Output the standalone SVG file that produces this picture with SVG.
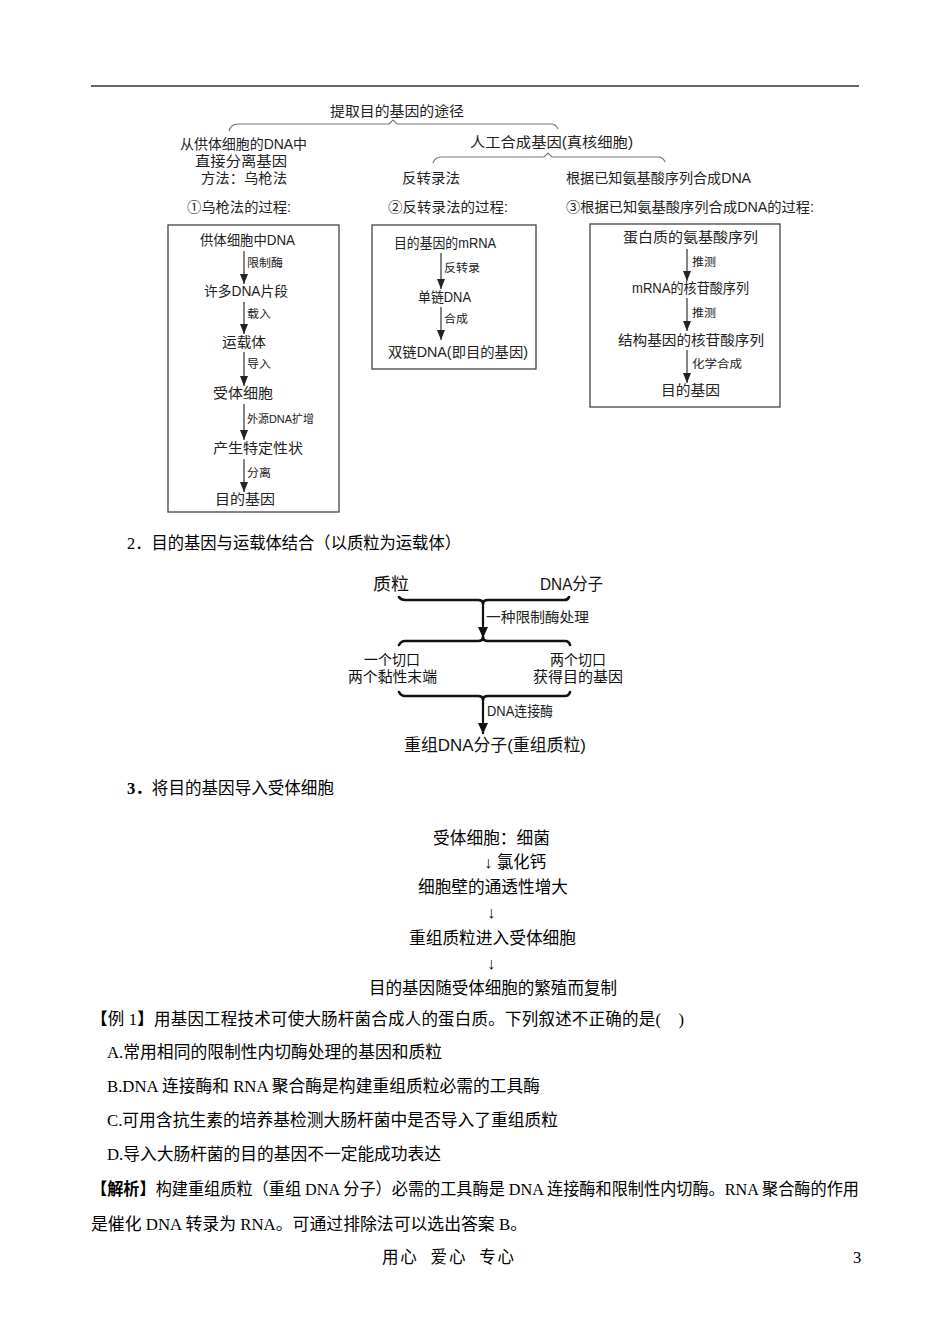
<svg xmlns="http://www.w3.org/2000/svg" width="950" height="1344" viewBox="0 0 950 1344">
<style>
  .bg{fill:#ffffff}
  .d{font-family:"Liberation Sans","Noto Sans CJK SC",sans-serif;fill:#222;font-size:14px}
  .sm{font-family:"Liberation Sans","Noto Sans CJK SC",sans-serif;fill:#222;font-size:11px}
  .p{font-family:"Liberation Sans","Noto Sans CJK SC",sans-serif;fill:#111;font-size:14.5px}
  .pl{font-family:"Liberation Sans","Noto Sans CJK SC",sans-serif;fill:#111;font-size:17px}
  .b{font-family:"Liberation Serif","Noto Sans CJK SC",serif;fill:#000;font-size:16.5px}
  .bb{font-weight:bold}
  .box{fill:none;stroke:#444;stroke-width:1.3}
  .brace{fill:none;stroke:#777;stroke-width:1.2}
  .arr{fill:none;stroke:#333;stroke-width:1.2;marker-end:url(#ah)}
  .thick{fill:none;stroke:#111;stroke-width:2.6;stroke-linecap:round;stroke-linejoin:round}
  .tarr{fill:none;stroke:#111;stroke-width:2.2;marker-end:url(#ahb)}
  .rule{stroke:#333;stroke-width:1.6}
</style>
<defs>
  <marker id="ah" markerUnits="userSpaceOnUse" viewBox="0 0 10 8" refX="10" refY="4" markerWidth="10" markerHeight="8" orient="auto">
    <path d="M0,0 L10,4 L0,8 z" fill="#222"/>
  </marker>
  <marker id="ahb" markerUnits="userSpaceOnUse" viewBox="0 0 11 10" refX="11" refY="5" markerWidth="11" markerHeight="10" orient="auto">
    <path d="M0,0 L11,5 L0,10 z" fill="#111"/>
  </marker>
</defs>
<rect class="bg" x="0" y="0" width="950" height="1344"/>
<line class="rule" x1="91" y1="86" x2="859" y2="86"/>

<!-- connectors -->
<g id="connectors">
  <path class="brace" d="M229,131 Q231,124 238,124 L389,124 L393,120 L397,124 L551,124 Q556,124 558,129"/>
  <path class="brace" d="M433,163 Q435,157 441,157 L544,157 L548,153 L552,157 L658,157 Q663,157 665,162"/>
  <!-- box 1 arrows -->
  <line class="arr" x1="244" y1="251" x2="244" y2="284"/>
  <line class="arr" x1="244" y1="302" x2="244" y2="334"/>
  <line class="arr" x1="244" y1="352" x2="244" y2="386"/>
  <line class="arr" x1="244" y1="404" x2="244" y2="440"/>
  <line class="arr" x1="244" y1="459" x2="244" y2="492"/>
  <!-- box 2 arrows -->
  <line class="arr" x1="441" y1="253" x2="441" y2="289"/>
  <line class="arr" x1="441" y1="307" x2="441" y2="340"/>
  <!-- box 3 arrows -->
  <line class="arr" x1="687" y1="249" x2="687" y2="281"/>
  <line class="arr" x1="687" y1="298" x2="687" y2="331"/>
  <line class="arr" x1="687" y1="350" x2="687" y2="383"/>
  <!-- plasmid diagram -->
  <path class="thick" d="M399,597 Q401,600 405,600 L478,600 Q483,600 483,604 Q483,600 488,600 L564,600 Q568,600 569,597"/>
  <line class="tarr" x1="483" y1="604" x2="483" y2="638"/>
  <path class="thick" d="M399,645 Q401,641 405,641 L478,641 Q483,641 483,637 Q483,641 488,641 L565,641 Q569,641 570,645"/>
  <path class="thick" d="M399,692 Q401,696 405,696 L478,696 Q483,696 483,700 Q483,696 488,696 L565,696 Q569,696 570,692"/>
  <line class="tarr" x1="483" y1="700" x2="483" y2="734"/>
</g>

<!-- top tree -->
<g id="node-root"><text class="d" x="330" y="116" textLength="134" lengthAdjust="spacingAndGlyphs" font-size="14.5">提取目的基因的途径</text></g>
<g id="node-direct">
  <text class="d" x="180" y="149" textLength="127" lengthAdjust="spacingAndGlyphs">从供体细胞的DNA中</text>
  <text class="d" x="195" y="166" textLength="92" lengthAdjust="spacingAndGlyphs">直接分离基因</text>
  <text class="d" x="201" y="183" textLength="86" lengthAdjust="spacingAndGlyphs">方法：乌枪法</text>
</g>
<g id="node-artificial"><text class="d" x="470" y="147" textLength="163" lengthAdjust="spacingAndGlyphs">人工合成基因(真核细胞)</text></g>
<g id="node-reverse"><text class="d" x="402" y="183" textLength="58" lengthAdjust="spacingAndGlyphs">反转录法</text></g>
<g id="node-aa"><text class="d" x="566" y="183" textLength="185" lengthAdjust="spacingAndGlyphs">根据已知氨基酸序列合成DNA</text></g>
<g id="title-1"><text class="d" x="187" y="212" textLength="104" lengthAdjust="spacingAndGlyphs">①乌枪法的过程:</text></g>
<g id="title-2"><text class="d" x="388" y="212" textLength="120" lengthAdjust="spacingAndGlyphs">②反转录法的过程:</text></g>
<g id="title-3"><text class="d" x="566" y="212" textLength="248" lengthAdjust="spacingAndGlyphs">③根据已知氨基酸序列合成DNA的过程:</text></g>

<!-- box 1 -->
<g id="box-shotgun">
  <rect class="box" x="168" y="225" width="171" height="287"/>
  <text class="d" x="200" y="245" textLength="95" lengthAdjust="spacingAndGlyphs">供体细胞中DNA</text>
  <text class="sm" x="247" y="267" textLength="36" lengthAdjust="spacingAndGlyphs">限制酶</text>
  <text class="d" x="204" y="296" textLength="84" lengthAdjust="spacingAndGlyphs">许多DNA片段</text>
  <text class="sm" x="247" y="318" textLength="24" lengthAdjust="spacingAndGlyphs">载入</text>
  <text class="d" x="222" y="347" textLength="44" lengthAdjust="spacingAndGlyphs">运载体</text>
  <text class="sm" x="247" y="368" textLength="24" lengthAdjust="spacingAndGlyphs">导入</text>
  <text class="d" x="213" y="398" textLength="60" lengthAdjust="spacingAndGlyphs">受体细胞</text>
  <text class="sm" x="247" y="423" textLength="67" lengthAdjust="spacingAndGlyphs">外源DNA扩增</text>
  <text class="d" x="213" y="453" textLength="90" lengthAdjust="spacingAndGlyphs">产生特定性状</text>
  <text class="sm" x="247" y="477" textLength="24" lengthAdjust="spacingAndGlyphs">分离</text>
  <text class="d" x="215" y="504" textLength="60" lengthAdjust="spacingAndGlyphs">目的基因</text>
</g>

<!-- box 2 -->
<g id="box-reverse">
  <rect class="box" x="372" y="225" width="164" height="144"/>
  <text class="d" x="394" y="248" textLength="102" lengthAdjust="spacingAndGlyphs">目的基因的mRNA</text>
  <text class="sm" x="444" y="272" textLength="36" lengthAdjust="spacingAndGlyphs">反转录</text>
  <text class="d" x="418" y="302" textLength="53" lengthAdjust="spacingAndGlyphs">单链DNA</text>
  <text class="sm" x="444" y="323" textLength="24" lengthAdjust="spacingAndGlyphs">合成</text>
  <text class="d" x="388" y="357" textLength="140" lengthAdjust="spacingAndGlyphs">双链DNA(即目的基因)</text>
</g>

<!-- box 3 -->
<g id="box-chem">
  <rect class="box" x="590" y="224" width="190" height="183"/>
  <text class="d" x="623" y="242" textLength="135" lengthAdjust="spacingAndGlyphs">蛋白质的氨基酸序列</text>
  <text class="sm" x="692" y="266" textLength="24" lengthAdjust="spacingAndGlyphs">推测</text>
  <text class="d" x="632" y="293" textLength="117" lengthAdjust="spacingAndGlyphs">mRNA的核苷酸序列</text>
  <text class="sm" x="692" y="317" textLength="24" lengthAdjust="spacingAndGlyphs">推测</text>
  <text class="d" x="618" y="345" textLength="146" lengthAdjust="spacingAndGlyphs">结构基因的核苷酸序列</text>
  <text class="sm" x="692" y="368" textLength="50" lengthAdjust="spacingAndGlyphs">化学合成</text>
  <text class="d" x="661" y="395" textLength="59" lengthAdjust="spacingAndGlyphs">目的基因</text>
</g>

<!-- section 2 -->
<g id="heading-2"><text class="b" x="127" y="549" textLength="334" lengthAdjust="spacingAndGlyphs">2．目的基因与运载体结合（以质粒为运载体）</text></g>
<g id="node-plasmid"><text class="pl" x="373" y="590" textLength="36" lengthAdjust="spacingAndGlyphs">质粒</text></g>
<g id="node-dna"><text class="pl" x="540" y="590" textLength="63" lengthAdjust="spacingAndGlyphs">DNA分子</text></g>
<g id="label-enzyme"><text class="d" x="486" y="622" textLength="103" lengthAdjust="spacingAndGlyphs">一种限制酶处理</text></g>
<g id="node-onecut">
  <text class="p" x="364" y="665" textLength="56" lengthAdjust="spacingAndGlyphs">一个切口</text>
  <text class="p" x="348" y="682" textLength="89" lengthAdjust="spacingAndGlyphs">两个黏性末端</text>
</g>
<g id="node-twocut">
  <text class="p" x="550" y="665" textLength="56" lengthAdjust="spacingAndGlyphs">两个切口</text>
  <text class="p" x="533" y="682" textLength="90" lengthAdjust="spacingAndGlyphs">获得目的基因</text>
</g>
<g id="label-ligase"><text class="d" x="487" y="716" textLength="66" lengthAdjust="spacingAndGlyphs" font-size="13">DNA连接酶</text></g>
<g id="node-recomb"><text class="pl" x="404" y="751" textLength="182" lengthAdjust="spacingAndGlyphs">重组DNA分子(重组质粒)</text></g>

<!-- section 3 -->
<g id="heading-3"><text class="b" x="127" y="794" textLength="207" lengthAdjust="spacingAndGlyphs"><tspan class="bb">3．</tspan>将目的基因导入受体细胞</text></g>
<g id="flow-3">
  <text class="b" x="433" y="844" textLength="117" lengthAdjust="spacingAndGlyphs">受体细胞：细菌</text>
  <text class="b" x="484" y="868" font-size="16">↓</text>
  <text class="b" x="497" y="868" textLength="49" lengthAdjust="spacingAndGlyphs">氯化钙</text>
  <text class="b" x="418" y="893" textLength="150" lengthAdjust="spacingAndGlyphs">细胞壁的通透性增大</text>
  <text class="b" x="487" y="918" font-size="16">↓</text>
  <text class="b" x="409" y="944" textLength="167" lengthAdjust="spacingAndGlyphs">重组质粒进入受体细胞</text>
  <text class="b" x="487" y="969" font-size="16">↓</text>
  <text class="b" x="369" y="994" textLength="248" lengthAdjust="spacingAndGlyphs">目的基因随受体细胞的繁殖而复制</text>
</g>

<!-- example -->
<g id="example">
  <text class="b" x="91" y="1025" textLength="593" lengthAdjust="spacing"><tspan class="bb">【</tspan>例 1<tspan class="bb">】</tspan>用基因工程技术可使大肠杆菌合成人的蛋白质。下列叙述不正确的是(&#160;&#160;&#160;&#160;)</text>
  <text class="b" x="107" y="1058" textLength="335" lengthAdjust="spacingAndGlyphs">A.常用相同的限制性内切酶处理的基因和质粒</text>
  <text class="b" x="107" y="1092" textLength="433" lengthAdjust="spacingAndGlyphs">B.DNA 连接酶和 RNA 聚合酶是构建重组质粒必需的工具酶</text>
  <text class="b" x="107" y="1126" textLength="451" lengthAdjust="spacingAndGlyphs">C.可用含抗生素的培养基检测大肠杆菌中是否导入了重组质粒</text>
  <text class="b" x="107" y="1160" textLength="334" lengthAdjust="spacingAndGlyphs">D.导入大肠杆菌的目的基因不一定能成功表达</text>
  <text class="b" x="91" y="1195" textLength="768" lengthAdjust="spacingAndGlyphs"><tspan class="bb">【解析】</tspan>构建重组质粒（重组 DNA 分子）必需的工具酶是 DNA 连接酶和限制性内切酶。RNA 聚合酶的作用</text>
  <text class="b" x="91" y="1230" textLength="436" lengthAdjust="spacingAndGlyphs">是催化 DNA 转录为 RNA。可通过排除法可以选出答案 B。</text>
</g>

<!-- footer -->
<g id="footer">
  <text class="b" x="382" y="1263" font-size="13" textLength="132" lengthAdjust="spacing">用心&#160;&#160;爱心&#160;&#160;专心</text>
  <text class="b" x="853" y="1263" font-size="13">3</text>
</g>
</svg>
